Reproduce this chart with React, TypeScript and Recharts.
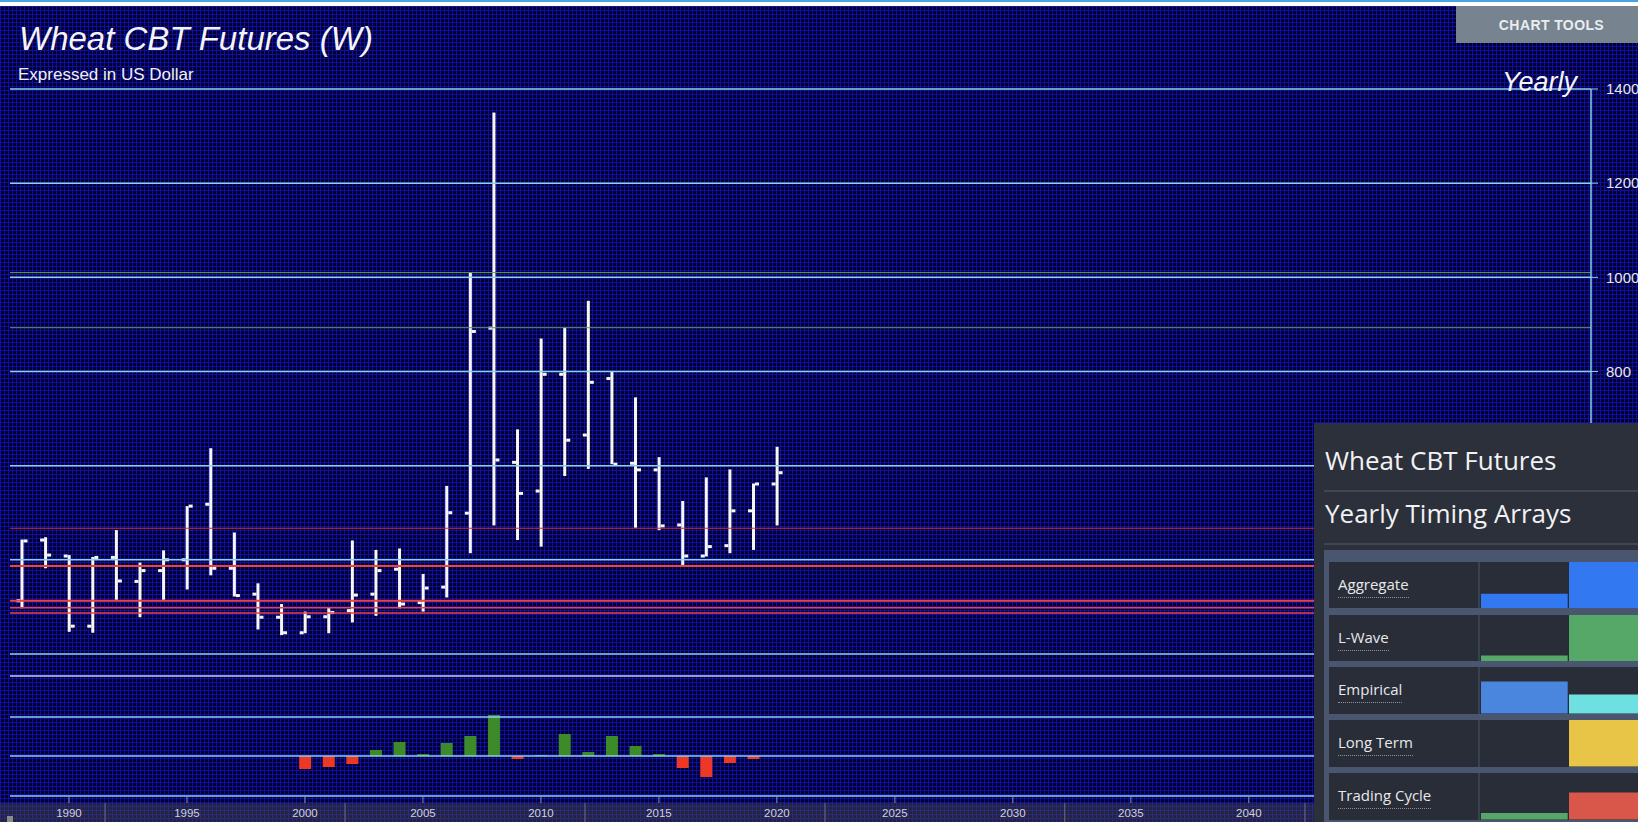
import React from 'react';
import { ComposedChart, BarChart, Bar, XAxis, YAxis, ReferenceLine, Cell } from 'recharts';

// yearly OHLC (cents per bushel)
const years = [1988, 1989, 1990, 1991, 1992, 1993, 1994, 1995, 1996, 1997, 1998, 1999, 2000, 2001, 2002, 2003, 2004, 2005, 2006, 2007, 2008, 2009, 2010, 2011, 2012, 2013, 2014, 2015, 2016, 2017, 2018, 2019, 2020];
const opens = [313, 442, 408, 259, 405, 354, 377, 400, 518, 382, 327, 278, 245, 279, 292, 327, 380, 309, 342, 499, 892, 607, 546, 794, 665, 785, 605, 591, 474, 408, 430, 504, 561];
const highs = [443, 448, 410, 406, 463, 394, 420, 514, 637, 458, 350, 306, 290, 299, 441, 421, 424, 370, 557, 1010, 1350, 677, 870, 893, 950, 800, 745, 618, 525, 575, 592, 562, 640];
const lows = [297, 382, 247, 245, 315, 278, 315, 337, 367, 322, 252, 240, 244, 244, 267, 281, 297, 290, 320, 414, 473, 442, 428, 578, 593, 603, 468, 463, 389, 407, 414, 421, 473];
const closes = [440, 410, 259, 405, 355, 377, 400, 514, 382, 324, 278, 245, 279, 288, 325, 377, 306, 340, 500, 885, 612, 541, 794, 654, 777, 603, 591, 472, 408, 428, 504, 561, 585];

// lower pane oscillator
const signalYears = [2000, 2001, 2002, 2003, 2004, 2005, 2006, 2007, 2008, 2009, 2010, 2011, 2012, 2013, 2014, 2015, 2016, 2017, 2018, 2019];
const signalValues = [-13, -11, -8, 6, 14, 2, 13, 20, 41, -3, 1, 22, 4, 20, 10, 2, -12, -21, -7, -3];

// horizontal levels
const priceGrid = [200, 400, 600, 800, 1000, 1200, 1400];
const greenLevels = [1010, 893];
const redLevels = [467, 387, 313, 298, 287];
const paneLines = [80, 39, 0, -40];

const yearTicks = [1990, 1995, 2000, 2005, 2010, 2015, 2020, 2025, 2030, 2035, 2040, 2045, 2050];
const bandSeparators = [1991.53, 2001.7, 2011.87, 2022.04, 2032.2, 2042.38];

// timing array panel
const arrayRows = ['Aggregate', 'L-Wave', 'Empirical', 'Long Term', 'Trading Cycle'];
const aggregate = [0.32, 1];
const lWave = [0.13, 1];
const empirical = [0.69, 0.41];
const longTerm = [0, 1];
const tradingCycle = [0.14, 0.58];
const arrayValues = [aggregate, lWave, empirical, longTerm, tradingCycle];
const arrayColors = [
  ['#3278f0', '#3278f0'],
  ['#55a868', '#55a868'],
  ['#4a86dd', '#6ee0e2'],
  ['#e8c547', '#e8c547'],
  ['#55a868', '#d9574a'],
];

const data = years.map((year, i) => {
  const s = signalYears.indexOf(year);
  return {
    year,
    open: opens[i],
    high: highs[i],
    low: lows[i],
    close: closes[i],
    signal: s >= 0 ? signalValues[s] : null,
  };
});

const CYAN = '#8ad2e8';
const PLOT_BOTTOM = 803;

const OhlcShape = (props: any) => {
  const { x, y, width, height, payload } = props;
  if (x == null || y == null || height == null) return null;
  const top = Math.min(y, y + height);
  const h = Math.abs(height);
  const cx = x + width / 2;
  const span = payload.high - payload.low;
  const k = span > 0 ? h / span : 0;
  const yOpen = top + (payload.high - payload.open) * k;
  const yClose = top + (payload.high - payload.close) * k;
  return (
    <g fill="#f7f7f7">
      <rect x={cx - 1.5} y={top} width={3} height={h} />
      <rect x={cx - 5.5} y={yOpen - 1.5} width={4} height={3} />
      <rect x={cx + 1.5} y={yClose - 1.5} width={4} height={3} />
    </g>
  );
};

// tick stub sits above the axis line, label sits in the band below it
const YearTick = (props: any) => {
  const { x, payload } = props;
  return (
    <g>
      <line x1={x} x2={x} y1={PLOT_BOTTOM - 7} y2={PLOT_BOTTOM} stroke="#8a93b5" strokeWidth={1} />
      <text
        x={x}
        y={PLOT_BOTTOM + 9.5}
        textAnchor="middle"
        dominantBaseline="central"
        fill="#d0d2da"
        fontSize={11.5}
        fontFamily="'Liberation Sans', Arial, sans-serif"
      >
        {payload.value}
      </text>
    </g>
  );
};

const SeparatorShape = (props: any) => {
  const { x1 } = props;
  if (x1 == null) return null;
  return <line x1={x1} x2={x1} y1={PLOT_BOTTOM} y2={PLOT_BOTTOM + 19} stroke="#6a6d80" strokeWidth={1} />;
};

const PriceChart = () => (
  <ComposedChart
    width={1638}
    height={822}
    data={data}
    margin={{ top: 89, right: 0, bottom: 0, left: 10 }}
    style={{ position: 'absolute', left: 0, top: 0 }}
  >
    <XAxis
      xAxisId="main"
      dataKey="year"
      type="number"
      domain={[1987.5, 2054.5]}
      ticks={yearTicks}
      interval={0}
      height={19}
      tickSize={0}
      tickMargin={0}
      axisLine={{ stroke: '#9a9aa8', strokeWidth: 1 }}
      tickLine={false}
      tick={<YearTick />}
      allowDataOverflow
    />
    <XAxis xAxisId="ind" dataKey="year" type="number" domain={[1987.5, 2054.5]} hide allowDataOverflow />
    <YAxis
      yAxisId="price"
      orientation="right"
      width={47}
      domain={[-116.6, 1400]}
      ticks={priceGrid}
      interval={0}
      allowDataOverflow
      axisLine={{ stroke: CYAN, strokeWidth: 1.5 }}
      tickLine={{ stroke: CYAN, strokeWidth: 1 }}
      tickSize={7}
      tickMargin={8}
      tick={{ fill: '#e6e6ea', fontSize: 15, fontFamily: "'Liberation Sans', Arial, sans-serif" }}
    />
    <YAxis yAxisId="ind" domain={[-47, 667]} hide allowDataOverflow />

    {priceGrid.map((v) => (
      <ReferenceLine key={`g${v}`} xAxisId="main" yAxisId="price" y={v} stroke={CYAN} strokeWidth={1.5} />
    ))}
    {greenLevels.map((v) => (
      <ReferenceLine key={`gr${v}`} xAxisId="main" yAxisId="price" y={v} stroke="#6c9c45" strokeWidth={1} />
    ))}
    {redLevels.map((v, i) => (
      <ReferenceLine
        key={`r${v}`}
        xAxisId="main"
        yAxisId="price"
        y={v}
        stroke={i === 0 ? '#c83434' : '#f04040'}
        strokeWidth={i === 0 ? 1 : i < 3 ? 2 : 1.5}
      />
    ))}
    {paneLines.map((v) => (
      <ReferenceLine
        key={`p${v}`}
        xAxisId="ind"
        yAxisId="ind"
        y={v}
        stroke={v === 80 ? '#c8d0e8' : CYAN}
        strokeWidth={1.5}
      />
    ))}
    {bandSeparators.map((v) => (
      <ReferenceLine
        key={`s${v}`}
        xAxisId="main"
        yAxisId="price"
        x={v}
        ifOverflow="visible"
        shape={<SeparatorShape />}
      />
    ))}

    <Bar
      xAxisId="ind"
      yAxisId="ind"
      dataKey="signal"
      barSize={12}
      isAnimationActive={false}
    >
      {data.map((d, i) => (
        <Cell key={i} fill={d.signal != null && d.signal < 0 ? '#ee3826' : '#3d8b28'} />
      ))}
    </Bar>
    <Bar
      xAxisId="main"
      yAxisId="price"
      dataKey={(d: any) => [d.low, d.high]}
      barSize={10}
      shape={<OhlcShape />}
      isAnimationActive={false}
    />
  </ComposedChart>
);

const ArrayRow = ({ label, values, colors }: { label: string; values: number[]; colors: string[] }) => {
  const rowData = values.map((v, i) => ({ slot: `c${i}`, v, fill: colors[i] }));
  return (
    <div style={{ display: 'flex', height: 46.6, marginBottom: 6.3, background: '#3a4150' }}>
      <div style={{ width: 149, height: '100%', background: '#282d38', position: 'relative' }}>
        <span
          style={{
            position: 'absolute',
            left: 9,
            top: 15,
            fontFamily: "'Open Sans', sans-serif",
            fontSize: 15,
            lineHeight: 1,
            color: '#e8e8ea',
            paddingBottom: 5,
            borderBottom: '1px dotted #8a909c',
            whiteSpace: 'nowrap',
          }}
        >
          {label}
        </span>
      </div>
      <div style={{ marginLeft: 2, background: '#282d38' }}>
        <BarChart width={176} height={46.6} data={rowData} margin={{ top: 0, right: 0, bottom: 0, left: 0 }}>
          <XAxis dataKey="slot" hide />
          <YAxis domain={[0, 1]} hide />
          <Bar dataKey="v" barSize={86.7} background={{ fill: '#282d38' }} isAnimationActive={false}>
            {rowData.map((d, i) => (
              <Cell key={i} fill={d.fill} />
            ))}
          </Bar>
        </BarChart>
      </div>
    </div>
  );
};

const TimingPanel = () => (
  <div
    style={{
      position: 'absolute',
      left: 1314,
      top: 423,
      width: 324,
      height: 399,
      background: '#2b303b',
      overflow: 'hidden',
      fontFamily: "'Open Sans', sans-serif",
      color: '#f2f2f4',
    }}
  >
    <div style={{ position: 'absolute', left: 11, top: 24, fontSize: 26, lineHeight: 1, whiteSpace: 'nowrap' }}>
      Wheat CBT Futures
    </div>
    <div style={{ position: 'absolute', left: 10, right: 0, top: 67, height: 1.5, background: '#3e4555' }} />
    <div style={{ position: 'absolute', left: 11, top: 77, fontSize: 26, lineHeight: 1, whiteSpace: 'nowrap' }}>
      Yearly Timing Arrays
    </div>
    <div style={{ position: 'absolute', left: 10, right: 0, top: 120, height: 1.5, background: '#3e4555' }} />
    <div
      style={{
        position: 'absolute',
        left: 10,
        top: 127,
        width: 340,
        bottom: 0,
        background: '#4a5570',
        paddingTop: 11.7,
        paddingLeft: 5,
        boxSizing: 'border-box',
      }}
    >
      {arrayRows.map((label, i) => (
        <ArrayRow key={label} label={label} values={arrayValues[i]} colors={arrayColors[i]} />
      ))}
    </div>
  </div>
);

export default function App() {
  return (
    <div
      style={{
        position: 'absolute',
        left: 0,
        top: 0,
        width: 1638,
        height: 822,
        overflow: 'hidden',
        fontFamily: "'Liberation Sans', Arial, sans-serif",
        background: '#ffffff',
      }}
    >
      <div style={{ position: 'absolute', left: 0, top: 0, width: 1638, height: 2, background: '#4aa3e0' }} />
      <div
        style={{
          position: 'absolute',
          left: 0,
          top: 6,
          width: 1638,
          height: 816,
          backgroundColor: '#000028',
          backgroundImage:
            'linear-gradient(to right, #0e0ea6 1px, transparent 1px), linear-gradient(to bottom, #0e0ea6 1px, transparent 1px)',
          backgroundSize: '4px 4px',
        }}
      />
      <div style={{ position: 'absolute', left: 0, top: 803, width: 1638, height: 19, background: 'rgba(70,70,82,0.5)' }} />
      <div style={{ position: 'absolute', left: 7, top: 816, width: 6, height: 6, background: '#8a8a8a' }} />

      <PriceChart />

      <div
        style={{
          position: 'absolute',
          left: 19,
          top: 22,
          fontSize: 33,
          fontStyle: 'italic',
          lineHeight: 1,
          color: '#f4f4f8',
          whiteSpace: 'nowrap',
        }}
      >
        Wheat CBT Futures (W)
      </div>
      <div
        style={{
          position: 'absolute',
          left: 18,
          top: 65.5,
          fontSize: 17,
          lineHeight: 1,
          color: '#f0f0f4',
          whiteSpace: 'nowrap',
        }}
      >
        Expressed in US Dollar
      </div>
      <div
        style={{
          position: 'absolute',
          left: 1502,
          top: 69,
          fontSize: 27,
          fontStyle: 'italic',
          lineHeight: 1,
          color: '#f4f4f8',
          whiteSpace: 'nowrap',
        }}
      >
        Yearly
      </div>
      <div
        style={{
          position: 'absolute',
          left: 1456,
          top: 6,
          width: 182,
          height: 37,
          background: '#77838f',
          color: '#e9edf0',
          fontSize: 14,
          fontWeight: 'bold',
          letterSpacing: 0.4,
          display: 'flex',
          alignItems: 'center',
          justifyContent: 'center',
          paddingLeft: 9,
          boxSizing: 'border-box',
        }}
      >
        CHART TOOLS
      </div>

      <TimingPanel />
    </div>
  );
}
